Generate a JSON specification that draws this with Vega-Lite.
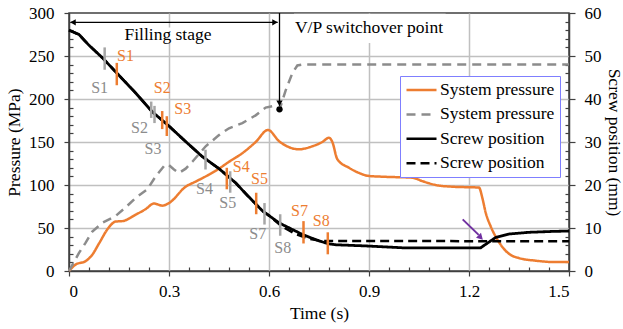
{
  "$schema": "https://vega.github.io/schema/vega-lite/v6.json",
  "width": 500,
  "height": 258,
  "autosize": "none",
  "padding": {"left": 69, "top": 13, "right": 54, "bottom": 58},
  "background": "white",
  "config": {
    "font": "Liberation Serif",
    "view": {"stroke": "#404040", "strokeWidth": 1.5},
    "axis": {
      "labelFont": "Liberation Serif", "labelFontSize": 17, "labelColor": "black",
      "titleFont": "Liberation Serif", "titleFontSize": 17.5, "titleFontWeight": "normal", "titleColor": "black",
      "domainColor": "#404040", "domainWidth": 1.5, "tickColor": "#404040", "tickWidth": 1.2,
      "gridColor": "#c0c0c0", "gridWidth": 1.5, "labelOverlap": false, "labelBound": false, "tickCount": 200
    },
    "legend": {"labelFont": "Liberation Serif", "title": null}
  },
  "datasets": {
    "pressure": [
      {"series": "sp1", "t": 0, "p": 0},
      {"series": "sp1", "t": 0.02, "p": 7.5},
      {"series": "sp1", "t": 0.05, "p": 11.5},
      {"series": "sp1", "t": 0.07, "p": 19},
      {"series": "sp1", "t": 0.09, "p": 32},
      {"series": "sp1", "t": 0.12, "p": 51},
      {"series": "sp1", "t": 0.14, "p": 57.5},
      {"series": "sp1", "t": 0.16, "p": 58},
      {"series": "sp1", "t": 0.2, "p": 65.5},
      {"series": "sp1", "t": 0.23, "p": 72},
      {"series": "sp1", "t": 0.255, "p": 78.5},
      {"series": "sp1", "t": 0.28, "p": 76},
      {"series": "sp1", "t": 0.3, "p": 79},
      {"series": "sp1", "t": 0.35, "p": 98},
      {"series": "sp1", "t": 0.38, "p": 104},
      {"series": "sp1", "t": 0.41, "p": 110},
      {"series": "sp1", "t": 0.45, "p": 119},
      {"series": "sp1", "t": 0.48, "p": 127},
      {"series": "sp1", "t": 0.52, "p": 137},
      {"series": "sp1", "t": 0.56, "p": 150},
      {"series": "sp1", "t": 0.597, "p": 164},
      {"series": "sp1", "t": 0.63, "p": 151},
      {"series": "sp1", "t": 0.66, "p": 144},
      {"series": "sp1", "t": 0.69, "p": 141.5},
      {"series": "sp1", "t": 0.73, "p": 145},
      {"series": "sp1", "t": 0.76, "p": 150},
      {"series": "sp1", "t": 0.78, "p": 155},
      {"series": "sp1", "t": 0.79, "p": 150},
      {"series": "sp1", "t": 0.805, "p": 130},
      {"series": "sp1", "t": 0.84, "p": 120},
      {"series": "sp1", "t": 0.87, "p": 114},
      {"series": "sp1", "t": 0.9, "p": 110.5},
      {"series": "sp1", "t": 0.95, "p": 109.5},
      {"series": "sp1", "t": 1.03, "p": 108.5},
      {"series": "sp1", "t": 1.06, "p": 104.5},
      {"series": "sp1", "t": 1.1, "p": 100},
      {"series": "sp1", "t": 1.15, "p": 98},
      {"series": "sp1", "t": 1.23, "p": 97},
      {"series": "sp1", "t": 1.24, "p": 85},
      {"series": "sp1", "t": 1.25, "p": 68},
      {"series": "sp1", "t": 1.265, "p": 52},
      {"series": "sp1", "t": 1.28, "p": 40},
      {"series": "sp1", "t": 1.3, "p": 28},
      {"series": "sp1", "t": 1.32, "p": 20},
      {"series": "sp1", "t": 1.35, "p": 15},
      {"series": "sp1", "t": 1.4, "p": 12},
      {"series": "sp1", "t": 1.45, "p": 10.5},
      {"series": "sp1", "t": 1.5, "p": 10.5},
      {"series": "sp2", "t": 0, "p": 0},
      {"series": "sp2", "t": 0.03, "p": 21},
      {"series": "sp2", "t": 0.05, "p": 33},
      {"series": "sp2", "t": 0.07, "p": 46},
      {"series": "sp2", "t": 0.1, "p": 56},
      {"series": "sp2", "t": 0.14, "p": 64},
      {"series": "sp2", "t": 0.17, "p": 74},
      {"series": "sp2", "t": 0.2, "p": 85},
      {"series": "sp2", "t": 0.235, "p": 95},
      {"series": "sp2", "t": 0.26, "p": 110},
      {"series": "sp2", "t": 0.285, "p": 122},
      {"series": "sp2", "t": 0.297, "p": 124},
      {"series": "sp2", "t": 0.315, "p": 118},
      {"series": "sp2", "t": 0.33, "p": 114},
      {"series": "sp2", "t": 0.35, "p": 119},
      {"series": "sp2", "t": 0.37, "p": 127},
      {"series": "sp2", "t": 0.41, "p": 145},
      {"series": "sp2", "t": 0.45, "p": 158},
      {"series": "sp2", "t": 0.48, "p": 166},
      {"series": "sp2", "t": 0.52, "p": 172},
      {"series": "sp2", "t": 0.56, "p": 181},
      {"series": "sp2", "t": 0.59, "p": 190},
      {"series": "sp2", "t": 0.615, "p": 192},
      {"series": "sp2", "t": 0.632, "p": 188},
      {"series": "sp2", "t": 0.65, "p": 210},
      {"series": "sp2", "t": 0.67, "p": 230},
      {"series": "sp2", "t": 0.685, "p": 239},
      {"series": "sp2", "t": 0.7, "p": 240},
      {"series": "sp2", "t": 1.5, "p": 240}
    ],
    "screw": [
      {"series": "scr1", "t": 0, "mm": 56},
      {"series": "scr1", "t": 0.03, "mm": 55},
      {"series": "scr1", "t": 0.06, "mm": 52.5},
      {"series": "scr1", "t": 0.1, "mm": 49.6},
      {"series": "scr1", "t": 0.15, "mm": 45.5},
      {"series": "scr1", "t": 0.2, "mm": 41.4},
      {"series": "scr1", "t": 0.25, "mm": 37.0},
      {"series": "scr1", "t": 0.3, "mm": 33.7},
      {"series": "scr1", "t": 0.35, "mm": 30.1},
      {"series": "scr1", "t": 0.4, "mm": 26.6},
      {"series": "scr1", "t": 0.45, "mm": 23.8},
      {"series": "scr1", "t": 0.5, "mm": 20.5},
      {"series": "scr1", "t": 0.53, "mm": 18.0},
      {"series": "scr1", "t": 0.56, "mm": 15.6},
      {"series": "scr1", "t": 0.58, "mm": 14.0},
      {"series": "scr1", "t": 0.63, "mm": 11.2},
      {"series": "scr1", "t": 0.7, "mm": 8.5},
      {"series": "scr1", "t": 0.75, "mm": 7.0},
      {"series": "scr1", "t": 0.78, "mm": 6.3},
      {"series": "scr1", "t": 0.8, "mm": 6.1},
      {"series": "scr1", "t": 0.9, "mm": 5.8},
      {"series": "scr1", "t": 1.0, "mm": 5.4},
      {"series": "scr1", "t": 1.235, "mm": 5.4},
      {"series": "scr1", "t": 1.25, "mm": 6.2},
      {"series": "scr1", "t": 1.28, "mm": 7.8},
      {"series": "scr1", "t": 1.32, "mm": 8.6},
      {"series": "scr1", "t": 1.38, "mm": 9.0},
      {"series": "scr1", "t": 1.45, "mm": 9.2},
      {"series": "scr1", "t": 1.5, "mm": 9.3},
      {"series": "scr2", "t": 0, "mm": 56},
      {"series": "scr2", "t": 0.03, "mm": 55},
      {"series": "scr2", "t": 0.06, "mm": 52.5},
      {"series": "scr2", "t": 0.1, "mm": 49.6},
      {"series": "scr2", "t": 0.15, "mm": 45.5},
      {"series": "scr2", "t": 0.2, "mm": 41.4},
      {"series": "scr2", "t": 0.25, "mm": 37.0},
      {"series": "scr2", "t": 0.3, "mm": 33.7},
      {"series": "scr2", "t": 0.35, "mm": 30.1},
      {"series": "scr2", "t": 0.4, "mm": 26.6},
      {"series": "scr2", "t": 0.45, "mm": 23.8},
      {"series": "scr2", "t": 0.5, "mm": 20.5},
      {"series": "scr2", "t": 0.53, "mm": 18.0},
      {"series": "scr2", "t": 0.56, "mm": 15.6},
      {"series": "scr2", "t": 0.58, "mm": 14.0},
      {"series": "scr2", "t": 0.6, "mm": 12.9},
      {"series": "scr2", "t": 0.64, "mm": 10.3},
      {"series": "scr2", "t": 0.68, "mm": 8.6},
      {"series": "scr2", "t": 0.72, "mm": 7.5},
      {"series": "scr2", "t": 0.76, "mm": 7.0},
      {"series": "scr2", "t": 1.5, "mm": 6.9}
    ],
    "ticks": [
      {"c": "gray", "id": "S1", "t": 0.107, "lo": 234, "hi": 260, "lt": 0.092, "lp": 213},
      {"c": "gray", "id": "S2", "t": 0.2466, "lo": 178, "hi": 197, "lt": 0.2115, "lp": 166.5},
      {"c": "gray", "id": "S3", "t": 0.2565, "lo": 172, "hi": 192, "lt": 0.252, "lp": 142},
      {"c": "gray", "id": "S4", "t": 0.4095, "lo": 118, "hi": 141, "lt": 0.4065, "lp": 95},
      {"c": "gray", "id": "S5", "t": 0.4836, "lo": 91, "hi": 116, "lt": 0.4764, "lp": 78.6},
      {"c": "gray", "id": "S7", "t": 0.5865, "lo": 54, "hi": 79, "lt": 0.5664, "lp": 42.6},
      {"c": "gray", "id": "S8", "t": 0.6336, "lo": 41, "hi": 66, "lt": 0.6414, "lp": 27.2},
      {"c": "orange", "id": "S1", "t": 0.1434, "lo": 216, "hi": 242, "lt": 0.1695, "lp": 250.5},
      {"c": "orange", "id": "S2", "t": 0.2796, "lo": 165, "hi": 186, "lt": 0.2796, "lp": 213},
      {"c": "orange", "id": "S3", "t": 0.2934, "lo": 157, "hi": 180, "lt": 0.3414, "lp": 188.6},
      {"c": "orange", "id": "S4", "t": 0.4734, "lo": 95, "hi": 120, "lt": 0.5166, "lp": 121.3},
      {"c": "orange", "id": "S5", "t": 0.5616, "lo": 66, "hi": 91, "lt": 0.5715, "lp": 107.3},
      {"c": "orange", "id": "S7", "t": 0.7035, "lo": 32, "hi": 58, "lt": 0.6915, "lp": 69.7},
      {"c": "orange", "id": "S8", "t": 0.7764, "lo": 19.4, "hi": 45, "lt": 0.7566, "lp": 58.1}
    ],
    "boxes": [
      {"t1": 0.165, "t2": 0.43, "p1": 266, "p2": 283},
      {"t1": 0.675, "t2": 1.13, "p1": 265, "p2": 299}
    ],
    "notes": [
      {"txt": "Filling stage", "t": 0.297, "p": 275},
      {"txt": "V/P switchover point", "t": 0.9, "p": 282.5}
    ],
    "arrows": [
      {"t1": 0.006, "p1": 289.2, "t2": 0.626, "p2": 289.2},
      {"t1": 0.6315, "p1": 300, "t2": 0.6315, "p2": 192}
    ],
    "heads": [
      {"kind": "left", "t": 0.012, "p": 289.2},
      {"kind": "right", "t": 0.618, "p": 289.2},
      {"kind": "down", "t": 0.6315, "p": 195},
      {"kind": "dot", "t": 0.6315, "p": 188}
    ],
    "purple": [
      {"t1": 1.181, "p1": 60, "t2": 1.229, "p2": 42, "ht": 1.235, "hp": 39}
    ]
  },
  "layer": [
    {
      "layer": [
        {
          "data": {"name": "boxes"},
          "mark": {"type": "rect", "fill": "white"},
          "encoding": {
            "x": {"field": "t1", "type": "quantitative", "scale": {"domain": [0, 1.5], "nice": false},
              "axis": {
                "title": "Time (s)",
                "values": [0,0.06,0.12,0.18,0.24,0.3,0.36,0.42,0.48,0.54,0.6,0.66,0.72,0.78,0.84,0.9,0.96,1.02,1.08,1.14,1.2,1.26,1.32,1.38,1.44,1.5],
                "tickCount": 200,
                "format": ".1~f",
                "labelExpr": "abs(round(datum.value/0.3)*0.3 - datum.value) < 0.000001 ? datum.label : ''",
                "tickSize": {"condition": {"test": "abs(round(datum.value/0.3)*0.3 - datum.value) < 0.000001", "value": 5}, "value": -4},
                "labelPadding": 7,
                "titlePadding": 5,
                "grid": true,
                "gridOpacity": {"condition": {"test": "abs(round(datum.value/0.3)*0.3 - datum.value) < 0.000001 && datum.value > 0.01 && datum.value < 1.49", "value": 1}, "value": 0}
              }},
            "x2": {"field": "t2"},
            "y": {"field": "p1", "type": "quantitative", "scale": {"domain": [0, 300], "nice": false},
              "axis": {
                "orient": "left",
                "title": "Pressure (MPa)",
                "values": [0,10,20,30,40,50,60,70,80,90,100,110,120,130,140,150,160,170,180,190,200,210,220,230,240,250,260,270,280,290,300],
                "tickCount": 200,
                "format": "d",
                "labelExpr": "datum.value % 50 === 0 ? datum.label : ''",
                "tickSize": {"condition": {"test": "datum.value % 50 === 0", "value": 5}, "value": -4},
                "labelPadding": 10,
                "titlePadding": 5,
                "grid": true,
                "gridOpacity": {"condition": {"test": "datum.value % 50 === 0 && datum.value > 0 && datum.value < 300", "value": 1}, "value": 0}
              }},
            "y2": {"field": "p2"}
          }
        },
        {
          "data": {"name": "pressure"},
          "transform": [{"filter": "datum.series === 'sp1'"}],
          "mark": {"type": "line", "interpolate": "monotone", "strokeWidth": 2.5},
          "encoding": {
            "x": {"field": "t", "type": "quantitative", "scale": {"domain": [0, 1.5], "nice": false}},
            "y": {"field": "p", "type": "quantitative", "scale": {"domain": [0, 300], "nice": false}},
            "color": {"field": "series", "type": "nominal",
              "scale": {"domain": ["sp1", "sp2", "scr1", "scr2"], "range": ["#ED7D31", "#8C8C8C", "#000000", "#000000"]},
              "legend": {"title": null, "orient": "none", "legendX": 331, "legendY": 63,
                "labelExpr": "(datum.label === 'sp1' || datum.label === 'sp2') ? 'System pressure' : 'Screw position'",
                "symbolType": "M-1,0H3", "symbolSize": 225, "symbolStrokeWidth": 2.5,
                "strokeColor": "#7f7fff", "fillColor": "white", "padding": 5, "rowPadding": 6.4,
                "labelFontSize": 17.5, "labelColor": "black", "labelOffset": 17, "labelLimit": 300}},
            "strokeDash": {"field": "series", "type": "nominal",
              "scale": {"domain": ["sp1", "sp2", "scr1", "scr2"], "range": [[1, 0], [9, 6], [1, 0], [9, 5]]},
              "legend": {"title": null, "orient": "none", "legendX": 331, "legendY": 63,
                "labelExpr": "(datum.label === 'sp1' || datum.label === 'sp2') ? 'System pressure' : 'Screw position'",
                "symbolType": "M-1,0H3", "symbolSize": 225, "symbolStrokeWidth": 2.5,
                "strokeColor": "#7f7fff", "fillColor": "white", "padding": 5, "rowPadding": 6.4,
                "labelFontSize": 17.5, "labelColor": "black", "labelOffset": 17, "labelLimit": 300}}
          }
        },
        {
          "data": {"name": "pressure"},
          "transform": [{"filter": "datum.series === 'sp2'"}],
          "mark": {"type": "line", "strokeWidth": 2.5},
          "encoding": {
            "x": {"field": "t", "type": "quantitative", "scale": {"domain": [0, 1.5], "nice": false}},
            "y": {"field": "p", "type": "quantitative", "scale": {"domain": [0, 300], "nice": false}},
            "color": {"field": "series", "type": "nominal"},
            "strokeDash": {"field": "series", "type": "nominal"}
          }
        },
        {
          "data": {"name": "arrows"},
          "mark": {"type": "rule", "color": "black", "strokeWidth": 1.3},
          "encoding": {
            "x": {"field": "t1", "type": "quantitative"},
            "x2": {"field": "t2"},
            "y": {"field": "p1", "type": "quantitative"},
            "y2": {"field": "p2"}
          }
        },
        {
          "data": {"name": "heads"},
          "mark": {"type": "point", "filled": true, "color": "black", "size": 40, "opacity": 1},
          "encoding": {
            "x": {"field": "t", "type": "quantitative"},
            "y": {"field": "p", "type": "quantitative"},
            "shape": {"field": "kind", "type": "nominal",
              "scale": {"domain": ["left", "right", "down", "dot"], "range": ["triangle-left", "triangle-right", "triangle-down", "circle"]},
              "legend": null}
          }
        },
        {
          "data": {"name": "notes"},
          "mark": {"type": "text", "fontSize": 17.5, "color": "black", "align": "center", "baseline": "middle"},
          "encoding": {
            "x": {"field": "t", "type": "quantitative"},
            "y": {"field": "p", "type": "quantitative"},
            "text": {"field": "txt"}
          }
        },
        {
          "data": {"name": "purple"},
          "mark": {"type": "rule", "color": "#7030A0", "strokeWidth": 2},
          "encoding": {
            "x": {"field": "t1", "type": "quantitative"},
            "x2": {"field": "t2"},
            "y": {"field": "p1", "type": "quantitative"},
            "y2": {"field": "p2"}
          }
        },
        {
          "data": {"name": "purple"},
          "mark": {"type": "point", "shape": "triangle-up", "angle": 135, "filled": true, "color": "#7030A0", "size": 50, "opacity": 1},
          "encoding": {
            "x": {"field": "ht", "type": "quantitative"},
            "y": {"field": "hp", "type": "quantitative"}
          }
        }
      ]
    },
    {
      "layer": [
        {
          "data": {"name": "screw"},
          "transform": [{"filter": "datum.series === 'scr1'"}],
          "mark": {"type": "line", "strokeWidth": 2.8},
          "encoding": {
            "x": {"field": "t", "type": "quantitative", "scale": {"domain": [0, 1.5], "nice": false}},
            "y": {"field": "mm", "type": "quantitative", "scale": {"domain": [0, 60], "nice": false},
              "axis": {
                "orient": "right",
                "title": "Screw position (mm)",
                "values": [0,2,4,6,8,10,12,14,16,18,20,22,24,26,28,30,32,34,36,38,40,42,44,46,48,50,52,54,56,58,60],
                "tickCount": 200,
                "format": "d",
                "labelExpr": "datum.value % 10 === 0 ? datum.label : ''",
                "tickSize": {"condition": {"test": "datum.value % 10 === 0", "value": 6}, "value": -4},
                "labelPadding": 9,
                "titlePadding": 3,
                "grid": false
              }},
            "color": {"field": "series", "type": "nominal"},
            "strokeDash": {"field": "series", "type": "nominal"}
          }
        },
        {
          "data": {"name": "screw"},
          "transform": [{"filter": "datum.series === 'scr2'"}],
          "mark": {"type": "line", "strokeWidth": 2.5},
          "encoding": {
            "x": {"field": "t", "type": "quantitative", "scale": {"domain": [0, 1.5], "nice": false}},
            "y": {"field": "mm", "type": "quantitative", "scale": {"domain": [0, 60], "nice": false}},
            "color": {"field": "series", "type": "nominal"},
            "strokeDash": {"field": "series", "type": "nominal"}
          }
        }
      ]
    },
    {
      "layer": [
        {
          "data": {"name": "ticks"},
          "transform": [{"filter": "datum.c === 'gray'"}],
          "mark": {"type": "rule", "color": "#A6A6A6", "strokeWidth": 2.5},
          "encoding": {
            "x": {"field": "t", "type": "quantitative", "scale": {"domain": [0, 1.5], "nice": false}},
            "y": {"field": "lo", "type": "quantitative", "scale": {"domain": [0, 300], "nice": false}, "axis": null},
            "y2": {"field": "hi"}
          }
        },
        {
          "data": {"name": "ticks"},
          "transform": [{"filter": "datum.c === 'orange'"}],
          "mark": {"type": "rule", "color": "#ED7D31", "strokeWidth": 2.5},
          "encoding": {
            "x": {"field": "t", "type": "quantitative"},
            "y": {"field": "lo", "type": "quantitative"},
            "y2": {"field": "hi"}
          }
        },
        {
          "data": {"name": "ticks"},
          "transform": [{"filter": "datum.c === 'gray'"}],
          "mark": {"type": "text", "color": "#8C8C8C", "fontSize": 16, "align": "center", "baseline": "middle"},
          "encoding": {
            "x": {"field": "lt", "type": "quantitative"},
            "y": {"field": "lp", "type": "quantitative"},
            "text": {"field": "id"}
          }
        },
        {
          "data": {"name": "ticks"},
          "transform": [{"filter": "datum.c === 'orange'"}],
          "mark": {"type": "text", "color": "#ED7D31", "fontSize": 16, "align": "center", "baseline": "middle"},
          "encoding": {
            "x": {"field": "lt", "type": "quantitative"},
            "y": {"field": "lp", "type": "quantitative"},
            "text": {"field": "id"}
          }
        }
      ]
    }
  ],
  "resolve": {"scale": {"y": "independent"}}
}
